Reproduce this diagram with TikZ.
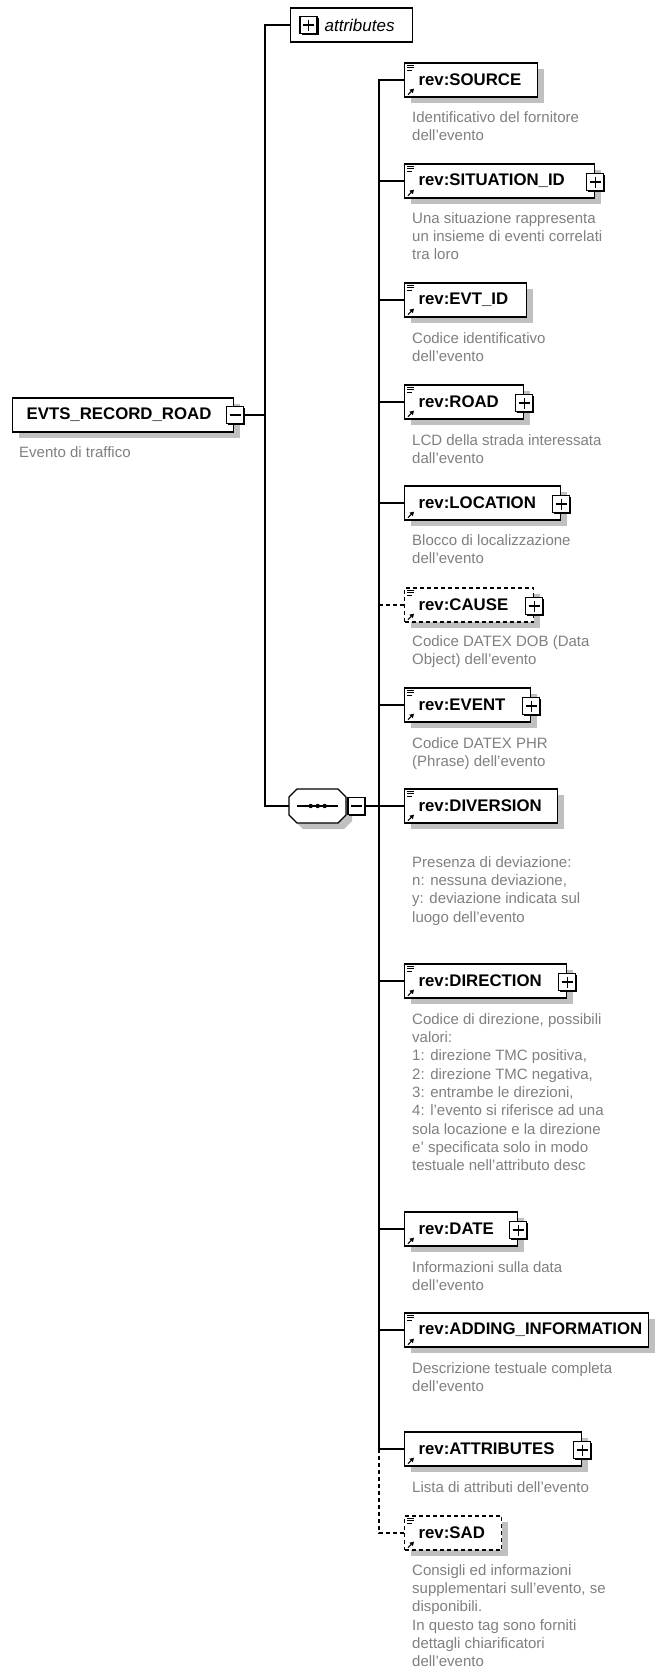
\documentclass[tikz,border=0pt]{standalone}
\usepackage{fontspec}
\setmainfont{Liberation Sans}
\usetikzlibrary{arrows.meta}
\usetikzlibrary{shadows}

\definecolor{notegray}{RGB}{128,128,128}
\definecolor{shadowgray}{RGB}{192,192,192}

\newcommand{\lblfont}{\fontsize{16.8}{20}\selectfont\bfseries}
\newcommand{\notefont}{\fontsize{15}{18.3}\selectfont}
\newcommand{\notestrut}{\rule{0pt}{12pt}}

\tikzset{
    link/.style={line width=1.2pt},
    elem/.style={draw, line width=1.2pt, fill=white, anchor=west,
        minimum height=34pt, inner ysep=0pt, inner xsep=14pt,
        text width=#1, align=left, font=\lblfont,
        drop shadow={shadow xshift=6pt, shadow yshift=-6pt, fill=shadowgray, opacity=1}},
    optelem/.style={elem=#1, dash pattern=on 4pt off 3pt},
    group/.style={draw, line width=1.2pt, fill=white, anchor=west,
        minimum height=34pt, inner sep=0pt, text width=122pt, align=left,
        font=\fontsize{17}{20}\selectfont\itshape},
    seqbox/.style={anchor=west, minimum width=57pt, minimum height=34pt, inner sep=0pt},
    expander/.style={draw, line width=1.2pt, fill=white, minimum size=17pt, inner sep=0pt,
        drop shadow={shadow xshift=1.5pt, shadow yshift=-1.5pt, fill=black, opacity=1}},
    plus/.style={expander, path picture={
        \draw[line width=1.2pt] ([yshift=-3pt]path picture bounding box.north) -- ([yshift=3pt]path picture bounding box.south)
            ([xshift=3pt]path picture bounding box.west) -- ([xshift=-3pt]path picture bounding box.east);}},
    minus/.style={expander, path picture={
        \draw[line width=1.2pt] ([xshift=3pt]path picture bounding box.west) -- ([xshift=-3pt]path picture bounding box.east);}},
    note/.style={anchor=north west, inner sep=0pt, align=left, font=\notefont, text=notegray},
    docicon/.style={line width=0.9pt},
    refarrow/.style={line width=1.2pt, -{Triangle[length=4pt, width=4.5pt]}},
}

\begin{document}
\begin{tikzpicture}[x=1pt, y=-1pt]
    \useasboundingbox[fill=white] (0,0) rectangle (658,1668);

    % root element
    \node[elem=193pt] (root) at (12,415) {EVTS\_RECORD\_ROAD};
    \node[minus] (root-x) at ([xshift=1pt]root.east) {};
    \node[note] (root-note) at (19,445) {\notestrut Evento di traffico};

    % attributes and sequence
    \node[group] (attr) at (290,25) {\hspace*{34pt}attributes};
    \node[plus] (attr-x) at ([xshift=18.5pt]attr.west) {};
    \fill[shadowgray] (303,795) -- (344,795) -- (352,803) -- (352,821) -- (344,829)
        -- (303,829) -- (295,821) -- (295,803) -- cycle;
    \draw[line width=1.2pt, fill=white] (297,789) -- (338,789) -- (346,797) -- (346,815)
        -- (338,823) -- (297,823) -- (289,815) -- (289,797) -- cycle;
    \node[seqbox] (seq) at (289,806) {};
    \draw[line width=1.2pt] ([xshift=8pt]seq.west) -- ([xshift=-8pt]seq.east);
    \foreach \dx in {-7,0,7}
        \fill ([xshift=\dx pt]seq.center) circle (2.2pt);
    \node[minus] (seq-x) at ([xshift=10pt]seq.east) {};

    % children of the sequence
    \node[elem=105pt] (src) at (404,80) {rev:SOURCE};
    \node[note] (src-note) at (412,110) {\notestrut Identificativo del fornitore\\dell'evento};

    \node[elem=162pt] (sit) at (404,181) {rev:SITUATION\_ID};
    \node[plus] (sit-x) at ([yshift=-1pt]sit.east) {};
    \node[note] (sit-note) at (412,211) {\notestrut Una situazione rappresenta\\un insieme di eventi correlati\\tra loro};

    \node[elem=94pt] (evt) at (404,300) {rev:EVT\_ID};
    \node[note] (evt-note) at (412,331) {\notestrut Codice identificativo\\dell'evento};

    \node[elem=91pt] (road) at (404,402) {rev:ROAD};
    \node[plus] (road-x) at ([yshift=-1pt]road.east) {};
    \node[note] (road-note) at (412,433) {\notestrut LCD della strada interessata\\dall'evento};

    \node[elem=128pt] (loc) at (404,503) {rev:LOCATION};
    \node[plus] (loc-x) at ([yshift=-1pt]loc.east) {};
    \node[note] (loc-note) at (412,533) {\notestrut Blocco di localizzazione\\dell'evento};

    \node[optelem=101pt] (cause) at (404,605) {rev:CAUSE};
    \node[plus] (cause-x) at ([yshift=-1pt]cause.east) {};
    \node[note] (cause-note) at (412,634) {\notestrut Codice DATEX DOB (Data\\Object) dell'evento};

    \node[elem=98pt] (ev) at (404,705) {rev:EVENT};
    \node[plus] (ev-x) at ([yshift=-1pt]ev.east) {};
    \node[note] (ev-note) at (412,736) {\notestrut Codice DATEX PHR\\(Phrase) dell'evento};

    \node[elem=125pt] (div) at (404,806) {rev:DIVERSION};
    \node[note] (div-note) at (412,855) {\notestrut Presenza di deviazione:\\n: nessuna deviazione,\\y: deviazione indicata sul\\luogo dell'evento};

    \node[elem=134pt] (dir) at (404,981) {rev:DIRECTION};
    \node[plus] (dir-x) at ([yshift=-1pt]dir.east) {};
    \node[note] (dir-note) at (412,1012) {\notestrut Codice di direzione, possibili\\valori:\\1: direzione TMC positiva,\\2: direzione TMC negativa,\\3: entrambe le direzioni,\\4: l'evento si riferisce ad una\\sola locazione e la direzione\\e' specificata solo in modo\\testuale nell'attributo desc};

    \node[elem=85pt] (date) at (404,1229) {rev:DATE};
    \node[plus] (date-x) at ([yshift=-1pt]date.east) {};
    \node[note] (date-note) at (412,1260) {\notestrut Informazioni sulla data\\dell'evento};

    \node[elem=216pt] (add) at (404,1330) {rev:ADDING\_INFORMATION};
    \node[note] (add-note) at (412,1361) {\notestrut Descrizione testuale completa\\dell'evento};

    \node[elem=149pt] (attrs) at (404,1449) {rev:ATTRIBUTES};
    \node[plus] (attrs-x) at ([yshift=-1pt]attrs.east) {};
    \node[note] (attrs-note) at (412,1480) {\notestrut Lista di attributi dell'evento};

    \node[optelem=69pt] (sad) at (404,1533) {rev:SAD};
    \node[note] (sad-note) at (412,1563) {\notestrut Consigli ed informazioni\\supplementari sull'evento, se\\disponibili.\\In questo tag sono forniti\\dettagli chiarificatori\\dell'evento};

    % icons
    \foreach \n in {src,sit,evt,road,cause,ev,div,dir,add,sad}
        \draw[docicon] ([shift={(3pt,-3pt)}]\n.north west) -- ++(7pt,0pt)
            ([shift={(3pt,-5.5pt)}]\n.north west) -- ++(7pt,0pt)
            ([shift={(3pt,-8pt)}]\n.north west) -- ++(5pt,0pt);
    \foreach \n in {src,sit,evt,road,loc,cause,ev,div,dir,date,add,attrs,sad}
        \draw[refarrow] ([shift={(4pt,3pt)}]\n.south west) -- ++(6pt,6pt);

    % connectors
    \coordinate (trunk) at (265,415);
    \coordinate (hub) at (379,806);
    \draw[link] (attr.west) -| (trunk) |- (seq.west);
    \draw[link] (root-x.east) -- (trunk);
    \draw[link] (seq-x.east) -- (hub);
    \draw[link] (src.west) -| (hub) |- (attrs.west);
    \foreach \n in {sit,evt,road,loc,ev,div,dir,date,add}
        \draw[link] (hub |- \n.west) -- (\n.west);
    \draw[link, dash pattern=on 4pt off 3pt] (hub |- cause.west) -- (cause.west);
    \draw[link, dash pattern=on 4pt off 3pt] (hub |- attrs.west) |- (sad.west);
\end{tikzpicture}
\end{document}
